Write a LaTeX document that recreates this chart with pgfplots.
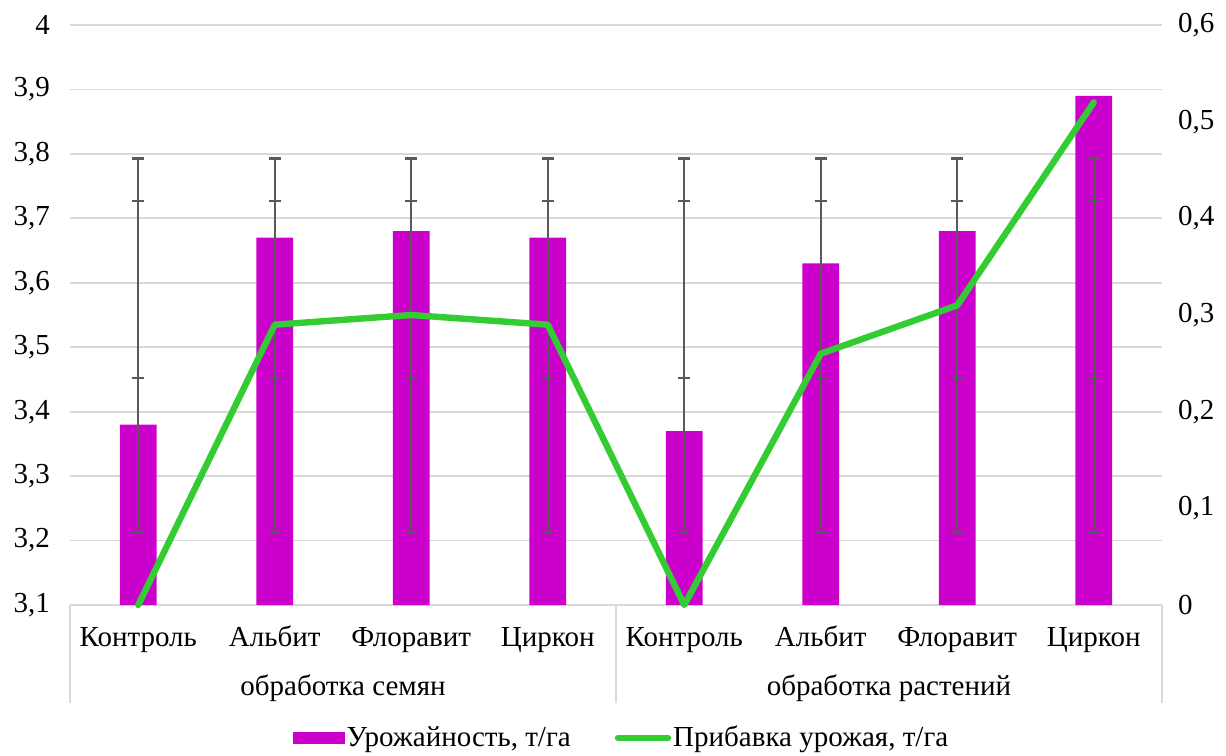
\documentclass[border=0pt]{standalone}
\usepackage{pgfplots}
\pgfplotsset{compat=1.18}
\usepackage{fontspec}
\setmainfont{Liberation Serif}
\definecolor{barmag}{HTML}{CC00CC}
\definecolor{lgreen}{HTML}{33CC33}
\definecolor{errgray}{HTML}{595959}
\definecolor{gridgray}{HTML}{D9D9D9}
\newcommand{\fs}{\fontsize{14.5}{17}\selectfont}
\begin{document}
\begin{tikzpicture}
\begin{axis}[
  name=main,
  scale only axis, width=546pt, height=290pt,
  xmin=-0.5, xmax=7.5, ymin=3.1, ymax=4,
  xtick={0,1,2,3,4,5,6,7},
  xticklabels={Контроль,Альбит,Флоравит,Циркон,Контроль,Альбит,Флоравит,Циркон},
  ytick={3.1,3.2,3.3,3.4,3.5,3.6,3.7,3.8,3.9,4},
  axis line style={draw=none},
  major tick length=0pt,
  ymajorgrids, grid style={gridgray, line width=0.9pt},
  /pgf/number format/.cd, fixed, precision=1, use comma, assume math mode=true,
  /pgfplots/.cd,
  ticklabel style={font=\fs},
  yticklabel style={xshift=-6.5pt},
  xticklabel style={anchor=base, yshift=-20.5pt},
  legend style={at={(0.505,-0.229)}, anchor=center, draw=none, font=\fs,
    legend columns=2, /tikz/every even column/.append style={column sep=21pt},
    nodes={inner sep=1pt}},
  legend cell align=left,
]
\addplot[fill=barmag, draw=none, ybar, bar width=0.27, bar shift=0pt,
  legend image code/.code={\fill (0pt,-3pt) rectangle (26pt,3pt);}]
  coordinates {(0,3.38) (1,3.67) (2,3.68) (3,3.67) (4,3.37) (5,3.63) (6,3.68) (7,3.89)};
\addlegendentry{Урожайность, т/га}
\addlegendimage{lgreen, line width=3.2pt, line cap=round,
  legend image code/.code={\draw (1pt,0pt) -- (26pt,0pt);}}
\addlegendentry{Прибавка урожая, т/га}
\addplot[forget plot, draw=none, mark=none,
  error bars/.cd, y dir=both, y explicit,
  error bar style={draw=errgray, line width=1.1pt},
  error mark options={rotate=90, draw=errgray, line width=1.1pt, mark size=3pt}]
  coordinates {(0,3.47)+-(0,0.257) (1,3.47)+-(0,0.257) (2,3.47)+-(0,0.257) (3,3.47)+-(0,0.257)
               (4,3.47)+-(0,0.257) (5,3.47)+-(0,0.257) (6,3.47)+-(0,0.257) (7,3.47)+-(0,0.257)};
\addplot[forget plot, draw=none, mark=none,
  error bars/.cd, y dir=both, y explicit,
  error bar style={draw=errgray, line width=1.1pt},
  error mark options={rotate=90, draw=errgray, line width=1.1pt, mark size=3pt}]
  coordinates {(0,3.6225)+-(0,0.1705) (1,3.6225)+-(0,0.1705) (2,3.6225)+-(0,0.1705) (3,3.6225)+-(0,0.1705)
               (4,3.6225)+-(0,0.1705) (5,3.6225)+-(0,0.1705) (6,3.6225)+-(0,0.1705) (7,3.6225)+-(0,0.1705)};
\end{axis}
\begin{axis}[
  scale only axis, width=546pt, height=290pt,
  xmin=-0.5, xmax=7.5, ymin=0, ymax=0.6,
  axis x line=none, axis y line*=right,
  axis line style={draw=none},
  major tick length=0pt,
  ytick={0,0.1,0.2,0.3,0.4,0.5,0.6},
  /pgf/number format/.cd, fixed, precision=1, use comma, assume math mode=true,
  /pgfplots/.cd,
  ticklabel style={font=\fs},
  yticklabel style={xshift=4.5pt},
  clip=false,
]
\addplot[lgreen, line width=3.2pt, line cap=round, line join=round]
  coordinates {(0,0) (1,0.29) (2,0.30) (3,0.29) (4,0) (5,0.26) (6,0.31) (7,0.52)};
\end{axis}
\draw[gridgray, line width=0.9pt] (main.south west) -- ++(0,-49pt);
\draw[gridgray, line width=0.9pt] (main.south) -- ++(0,-49pt);
\draw[gridgray, line width=0.9pt] (main.south east) -- ++(0,-49pt);
\node[anchor=base, font=\fs] at ([xshift=136.5pt, yshift=-45pt]main.south west) {обработка семян};
\node[anchor=base, font=\fs] at ([xshift=-136.5pt, yshift=-45pt]main.south east) {обработка растений};
\path ([xshift=-35pt, yshift=-74.5pt]main.south west) rectangle ([xshift=32pt, yshift=12.5pt]main.north east);
\end{tikzpicture}
\end{document}
